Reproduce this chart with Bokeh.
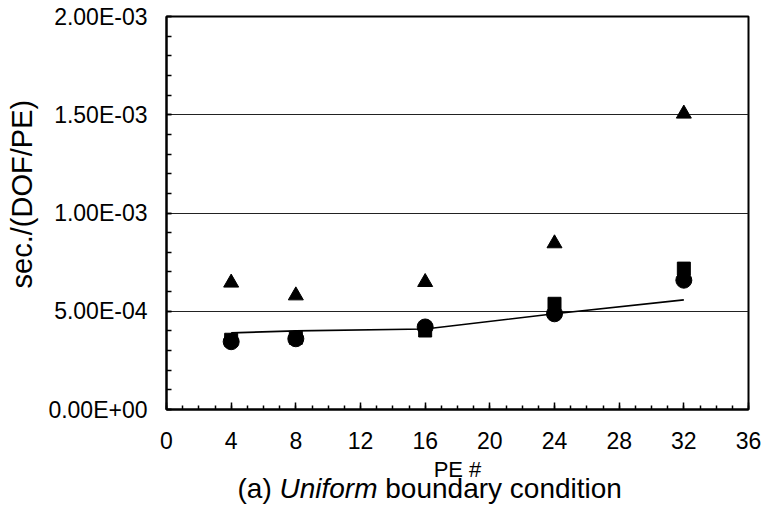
import math
from bokeh.plotting import figure
from bokeh.models import Range1d, FixedTicker, CustomJSTickFormatter
from bokeh.layouts import row, column
from bokeh.core.properties import value
from bokeh.embed import file_html
from bokeh.resources import INLINE

# ---- data ----
pe = [4, 8, 16, 24, 32]
time_triangle = [6.45e-4, 5.80e-4, 6.48e-4, 8.45e-4, 1.505e-3]
time_square = [3.55e-4, 3.65e-4, 4.02e-4, 5.38e-4, 7.17e-4]
time_circle = [3.45e-4, 3.60e-4, 4.20e-4, 4.87e-4, 6.58e-4]
time_line = [3.90e-4, 4.00e-4, 4.10e-4, 4.87e-4, 5.58e-4]

x_ticks = [0, 4, 8, 12, 16, 20, 24, 28, 32, 36]
y_ticks = [0.0, 5e-4, 1e-3, 1.5e-3, 2e-3]
y_tick_labels = ["0.00E+00", "5.00E-04", "1.00E-03", "1.50E-03", "2.00E-03"]

x_title = "PE #"
y_title = "sec./(DOF/PE)"
caption_parts = ["(a)", "Uniform", "boundary condition"]

FONT = "Liberation Sans"
W, H = 762, 531
LEFT_W = 44          # strip holding the rotated y title
TOP_H = 458          # height of the row with the chart
CAP_H = H - TOP_H    # strip holding the x title and caption

# ---------------- main chart ----------------
p = figure(width=W - LEFT_W, height=TOP_H, output_backend="svg", toolbar_location=None,
           x_range=Range1d(0, 36), y_range=Range1d(0, 2e-3),
           min_border_left=166 - LEFT_W, min_border_right=14, min_border_top=16,
           min_border_bottom=TOP_H - 409)
p.background_fill_color = "white"
p.border_fill_color = "white"
p.outline_line_color = "black"
p.outline_line_width = 2

xa = p.xaxis[0]
xa.ticker = FixedTicker(ticks=x_ticks, minor_ticks=list(range(0, 37)))
xa.major_tick_in = 7
xa.major_tick_out = 0
xa.minor_tick_in = 4
xa.minor_tick_out = 0
xa.axis_line_width = 2
xa.major_tick_line_width = 1.5
xa.minor_tick_line_width = 1.5
xa.major_label_text_font = FONT
xa.major_label_text_font_size = "23px"
xa.major_label_text_color = "black"
xa.major_label_standoff = 22

ya = p.yaxis[0]
ya.ticker = FixedTicker(ticks=y_ticks, minor_ticks=[i * 1e-4 for i in range(21)])
ya.formatter = CustomJSTickFormatter(args=dict(tvals=y_ticks, tlabels=y_tick_labels), code="""
let best = 0;
for (let i = 0; i < tvals.length; i++) {
  if (Math.abs(tvals[i] - tick) < Math.abs(tvals[best] - tick)) best = i;
}
return tlabels[best];
""")
ya.major_tick_in = 5
ya.major_tick_out = 0
ya.minor_tick_in = 5
ya.minor_tick_out = 0
ya.axis_line_width = 2
ya.major_tick_line_width = 1.5
ya.minor_tick_line_width = 1.5
ya.major_label_text_font = FONT
ya.major_label_text_font_size = "23px"
ya.major_label_text_color = "black"
ya.major_label_standoff = 19

p.xgrid.grid_line_color = None
p.ygrid.ticker = FixedTicker(ticks=y_ticks)
p.ygrid.grid_line_color = "#222222"
p.ygrid.grid_line_width = 1

p.line(pe, time_line, line_color="black", line_width=1.6)
p.scatter(pe, time_square, marker="square", size=13, fill_color="black", line_color="black")
p.scatter(pe, time_circle, marker="circle", size=16, fill_color="black", line_color="black")
p.scatter(pe, time_triangle, marker="triangle", size=15, fill_color="black", line_color="black")

# ---------------- helper strips for titles ----------------
def blank(width, height):
    f = figure(width=width, height=height, output_backend="svg", toolbar_location=None,
               x_range=Range1d(0, width), y_range=Range1d(0, height),
               x_axis_type=None, y_axis_type=None,
               min_border=0, min_border_left=0, min_border_right=0,
               min_border_top=0, min_border_bottom=0)
    f.grid.grid_line_color = None
    f.outline_line_color = None
    f.background_fill_color = "white"
    f.border_fill_color = "white"
    return f

ylab = blank(LEFT_W, TOP_H)
ylab.text(x=[21], y=[TOP_H - 207], text=[y_title], angle=math.pi / 2,
          text_align="center", text_baseline="middle",
          text_font=value(FONT), text_font_size="29px", text_color="black")

cap = blank(W, CAP_H)
cap.text(x=[457], y=[CAP_H - 11], text=[x_title],
         text_align="center", text_baseline="middle",
         text_font=value(FONT), text_font_size="22px", text_color="black")

CAP_FS = 28
SP = 0.278 * CAP_FS
w_pre, w_it = 1.222 * CAP_FS, 3.500 * CAP_FS
x0 = 237
mid_y = CAP_H - 30
common = dict(text_baseline="middle", text_align="left", text_font=value(FONT),
              text_font_size=f"{CAP_FS}px", text_color="black")
cap.text(x=[x0], y=[mid_y], text=[caption_parts[0]], **common)
cap.text(x=[x0 + w_pre + SP], y=[mid_y], text=[caption_parts[1]],
         text_font_style="italic", **common)
cap.text(x=[x0 + w_pre + SP + w_it + SP], y=[mid_y], text=[caption_parts[2]], **common)

layout = column(row(ylab, p), cap)
open("out.html", "w").write(file_html(layout, INLINE))
